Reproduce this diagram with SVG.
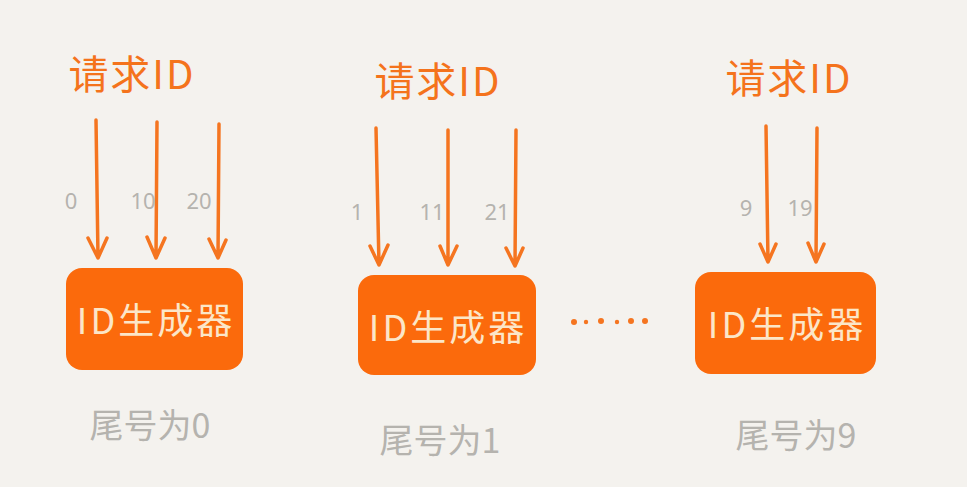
<svg xmlns="http://www.w3.org/2000/svg" width="967" height="487" viewBox="0 0 967 487">
<style>
.bg{fill:#f4f2ee}
.title{font-family:"Noto Sans CJK SC","Noto Sans",sans-serif;font-size:40px;fill:#f4731c;text-anchor:middle;letter-spacing:2px}
.num{font-family:"Noto Sans","Noto Sans CJK SC",sans-serif;font-size:22px;fill:#b5b3ae;text-anchor:middle}
.box{fill:#fb6a0c}
.boxt{font-family:"Noto Sans CJK SC","Noto Sans",sans-serif;font-size:36px;fill:#fbe6c8;text-anchor:middle;letter-spacing:3px}
.tail{font-family:"Noto Sans CJK SC","Noto Sans",sans-serif;font-size:34px;fill:#b5b3ae;text-anchor:middle}
.arr{stroke:#f57520;stroke-width:3.5;fill:none;stroke-linecap:round;stroke-linejoin:round}
.dot{fill:#f57520}
</style>
<rect class="bg" width="967" height="487"/>
<g id="connectors">
<path class="arr" d="M96 120 L98 258 M88 238 L98 258 L107 238"/>
<path class="arr" d="M157 122 L156 258 M147 237 L156 258 L165 238"/>
<path class="arr" d="M219 124 L218 258 M209 239 L218 258 L226 240"/>
<path class="arr" d="M376 128 L379 265 M370 246 L379 265 L388 245"/>
<path class="arr" d="M448 130 L448 265 M440 246 L448 265 L457 246"/>
<path class="arr" d="M516 130 L515 266 M506 248 L515 266 L523 248"/>
<path class="arr" d="M766 126 L768 262 M760 244 L768 262 L776 244"/>
<path class="arr" d="M817 128 L816 262 M808 243 L816 262 L824 244"/>
</g>
<g id="gen0">
<text class="title" x="132" y="89">请求ID</text>
<text class="num" x="71" y="209">0</text>
<text class="num" x="143" y="209">10</text>
<text class="num" x="199" y="209">20</text>
<rect class="box" x="66" y="268" width="177" height="102" rx="16"/>
<text class="boxt" x="156" y="334">ID生成器</text>
<text class="tail" x="150" y="438">尾号为0</text>
</g>
<g id="gen1">
<text class="title" x="438" y="96">请求ID</text>
<text class="num" x="357" y="220">1</text>
<text class="num" x="432" y="220">11</text>
<text class="num" x="497" y="220">21</text>
<rect class="box" x="358" y="275" width="178" height="100" rx="16"/>
<text class="boxt" x="448" y="341">ID生成器</text>
<text class="tail" x="440" y="453">尾号为1</text>
</g>
<g id="dots">
<circle class="dot" cx="574" cy="322" r="3"/>
<circle class="dot" cx="586" cy="322" r="2.2"/>
<circle class="dot" cx="601" cy="321" r="3"/>
<circle class="dot" cx="617" cy="322" r="2.2"/>
<circle class="dot" cx="631" cy="321" r="3"/>
<circle class="dot" cx="645" cy="321" r="3"/>
</g>
<g id="gen9">
<text class="title" x="789" y="93">请求ID</text>
<text class="num" x="746" y="216">9</text>
<text class="num" x="800" y="216">19</text>
<rect class="box" x="695" y="272" width="181" height="102" rx="16"/>
<text class="boxt" x="787" y="338">ID生成器</text>
<text class="tail" x="796" y="448">尾号为9</text>
</g>
</svg>
